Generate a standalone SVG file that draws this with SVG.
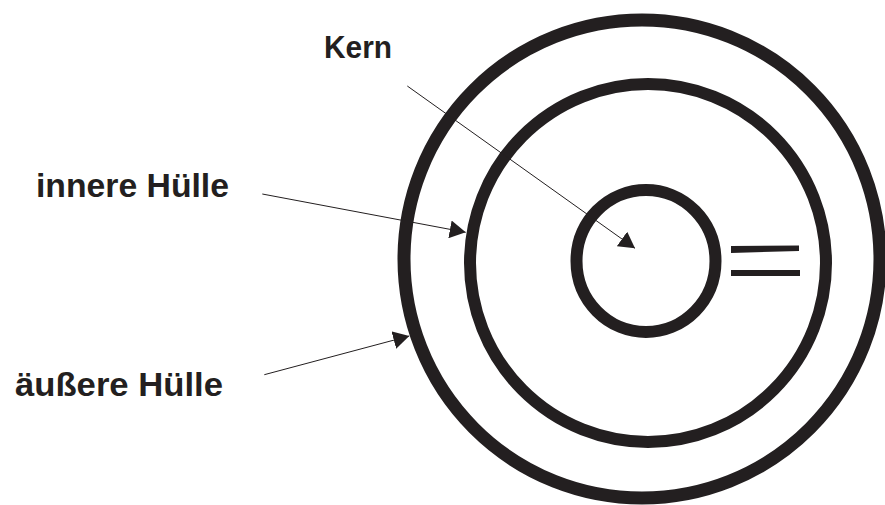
<svg xmlns="http://www.w3.org/2000/svg" width="885" height="505" viewBox="0 0 885 505">
<style>
.ring{fill:none;stroke:#231f20;stroke-width:13}
.lbl{font-family:"Liberation Sans",Arial,sans-serif;font-weight:bold;fill:#231f20}
.con{stroke:#231f20;stroke-width:1;fill:none;marker-end:url(#ah)}
.bar{fill:#231f20}
</style>
<defs>
<marker id="ah" viewBox="0 0 16 18" markerWidth="16" markerHeight="18" refX="16" refY="9" orient="auto" markerUnits="userSpaceOnUse">
<path d="M0,0 L16,9 L0,18 z" fill="#231f20"/>
</marker>
</defs>
<rect width="885" height="505" fill="#fff"/>
<g id="outer-shell"><ellipse class="ring" cx="642" cy="259" rx="238" ry="239"/></g>
<g id="inner-shell"><ellipse class="ring" cx="648" cy="263" rx="178" ry="179" style="stroke-width:12"/></g>
<g id="core"><ellipse class="ring" cx="646" cy="261" rx="69.5" ry="71" style="stroke-width:12"/></g>
<g id="equals">
<path class="bar" d="M731,246 L799,245.5 L799,251 L731,253 z"/>
<rect class="bar" x="731" y="270" width="69" height="6"/>
</g>
<g id="label-kern"><text class="lbl" x="324" y="58" font-size="31" textLength="68" lengthAdjust="spacingAndGlyphs">Kern</text></g>
<g id="label-innere"><text class="lbl" x="36" y="197" font-size="34" textLength="193" lengthAdjust="spacingAndGlyphs">innere Hülle</text></g>
<g id="label-aeussere"><text class="lbl" x="15" y="396" font-size="34" textLength="208" lengthAdjust="spacingAndGlyphs">äußere Hülle</text></g>
<g id="connectors">
<line class="con" x1="407.3" y1="86" x2="635" y2="248.3"/>
<line class="con" x1="262.3" y1="194" x2="465.7" y2="232.3"/>
<line class="con" x1="264.3" y1="374.7" x2="409.3" y2="336"/>
</g>
</svg>
